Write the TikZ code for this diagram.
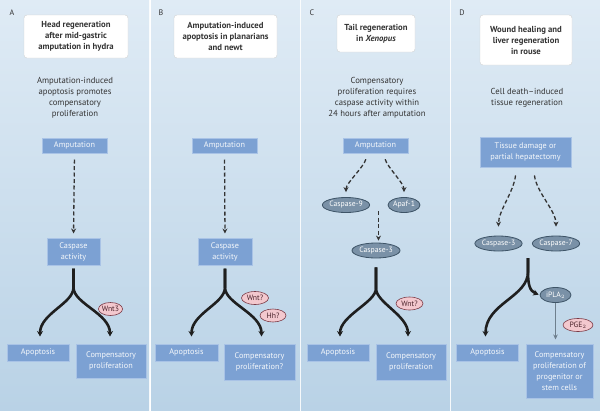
\documentclass[tikz,border=0pt]{standalone}
\usepackage{fontspec}
\setmainfont{PT Sans}
\usepackage{xcolor}
\usepackage{tikz}
\usetikzlibrary{shapes.geometric}
\usetikzlibrary{arrows.meta}

\definecolor{bgtop}{HTML}{DFEBF5}
\definecolor{bgbot}{HTML}{B9D2E6}
\definecolor{boxblue}{HTML}{7CA1D3}
\definecolor{boxrim}{HTML}{A9C3E6}
\definecolor{casgray}{HTML}{7A91A7}
\definecolor{casrim}{HTML}{3E5467}
\definecolor{pinkfill}{HTML}{F3C8CE}
\definecolor{pinkrim}{HTML}{7B3B47}
\definecolor{inktext}{HTML}{333333}

\tikzset{
 titlebox/.style={draw=gray!35,fill=white,rounded corners=3pt,align=center,inner sep=0pt,
 	font=\fontsize{8.7}{11}\selectfont\bfseries,text=inktext},
 blurb/.style={align=center,font=\fontsize{8.7}{11}\selectfont,text=inktext},
 bluebox/.style={draw=boxrim,line width=1pt,fill=boxblue,align=center,inner sep=0pt,
 	font=\fontsize{8.2}{11}\selectfont,text=white!92!boxblue},
 caspase/.style={ellipse,draw=casrim,line width=0.8pt,fill=casgray,inner sep=0pt,minimum height=15pt,
 	font=\fontsize{7.7}{9}\selectfont,text=white},
 signal/.style={ellipse,draw=pinkrim,line width=0.6pt,fill=pinkfill,inner sep=0pt,minimum height=13pt,
 	font=\fontsize{7.7}{9}\selectfont,text=pinkrim!60!black},
 dasharrow/.style={draw=black!80,line width=1.3pt,dash pattern=on 4pt off 2.5pt,
 	-{Stealth[length=5pt,width=5pt]}},
 fork/.style={draw=black!88,line width=2.6pt,-{Stealth[length=5.5pt,width=6pt]},shorten >=7pt},
 panellabel/.style={font=\fontsize{8}{9}\selectfont,text=inktext}
}

\begin{document}
\begin{tikzpicture}[x=1pt,y=-1pt]
 	\useasboundingbox (0,0) rectangle (600,410);
 	\fill[white] (0,0) rectangle (600,410);
 	\foreach \px in {0,151,301,451}
 	\shade[top color=bgtop,bottom color=bgbot] (\px,0) rectangle ++(149,410);
 	\foreach \lab/\lx in {A/12,B/161,C/312,D/462}
 	\node[panellabel] (lab\lab) at (\lx,13) {\lab};

 	% A
 	\node[titlebox,minimum width=104pt,minimum height=43pt] (titleA) at (76,36.5) {Head regeneration\\after mid-gastric\\amputation in hydra};
 	\node[blurb] (blurbA) at (75,97.5) {Amputation-induced\\apoptosis promotes\\compensatory\\proliferation};
 	\node[bluebox,minimum width=65pt,minimum height=15pt] (ampA) at (74.5,145.5) {Amputation};
 	\node[bluebox,minimum width=53pt,minimum height=27pt] (casA) at (73.5,251.5) {Caspase\\activity};
 	\node[bluebox,minimum width=62pt,minimum height=17pt] (apoA) at (38,352.5) {Apoptosis};
 	\node[bluebox,minimum width=70pt,minimum height=34pt] (compA) at (111,361) {Compensatory\\proliferation};
 	\node[signal,minimum width=24pt] (wntA) at (110.5,309) {Wnt3};
 	\draw[dasharrow,shorten <=6pt,shorten >=4pt] (ampA.south) -- (casA.north);
 	\draw[fork,shorten <=3pt] (casA.south) -- ++(0,22) .. controls +(0,16) and +(0,-30) .. ([xshift=2pt]apoA.north);
 	\draw[fork,shorten <=3pt] (casA.south) -- ++(0,22) .. controls +(0,16) and +(0,-30) .. ([xshift=-1pt]compA.north);

 	% B
 	\node[titlebox,minimum width=103pt,minimum height=43pt] (titleB) at (225.5,36.5) {Amputation-induced\\apoptosis in planarians\\and newt};
 	\node[bluebox,minimum width=65pt,minimum height=15pt] (ampB) at (224.5,145.5) {Amputation};
 	\node[bluebox,minimum width=54pt,minimum height=27pt] (casB) at (225,251.5) {Caspase\\activity};
 	\node[bluebox,minimum width=63pt,minimum height=17pt] (apoB) at (186.5,352.5) {Apoptosis};
 	\node[bluebox,minimum width=71pt,minimum height=36pt] (compB) at (259.5,362) {Compensatory\\proliferation?};
 	\node[signal,minimum width=27pt] (wntB) at (255,298) {Wnt?};
 	\node[signal,minimum width=26pt] (hhB) at (273,315.5) {Hh?};
 	\draw[dasharrow,shorten <=6pt,shorten >=4pt] (ampB.south) -- (casB.north);
 	\draw[fork,shorten <=3pt] (casB.south) -- ++(0,22) .. controls +(0,16) and +(0,-30) .. ([xshift=5pt]apoB.north);
 	\draw[fork,shorten <=3pt] (casB.south) -- ++(0,22) .. controls +(0,16) and +(0,-30) .. ([xshift=2pt]compB.north);

 	% C
 	\node[titlebox,minimum width=78pt,minimum height=37pt] (titleC) at (376,33.5) {Tail regeneration\\in \textit{Xenopus}};
 	\node[blurb] (blurbC) at (377,97.5) {Compensatory\\proliferation requires\\caspase activity within\\24 hours after amputation};
 	\node[bluebox,minimum width=65pt,minimum height=15pt] (ampC) at (375.5,145.5) {Amputation};
 	\node[caspase,minimum width=46pt] (c9C) at (346,205) {Caspase-9};
 	\node[caspase,minimum width=32pt] (apafC) at (404,205) {Apaf-1};
 	\coordinate (midC) at (378.5,211);
 	\node[caspase,minimum width=48pt] (c3C) at (376,250.5) {Caspase-3};
 	\node[bluebox,minimum width=62pt,minimum height=17pt] (apoC) at (338,352.5) {Apoptosis};
 	\node[bluebox,minimum width=70pt,minimum height=36pt] (compC) at (411,362) {Compensatory\\proliferation};
 	\node[signal,minimum width=27pt] (wntC) at (409.5,303.5) {Wnt?};
 	\draw[dasharrow,shorten <=6pt,shorten >=5pt] ([xshift=-8pt]ampC.south) .. controls +(-4,14) and +(0,-14) .. (c9C.north);
 	\draw[dasharrow,shorten <=6pt,shorten >=5pt] ([xshift=8pt]ampC.south) .. controls +(4,14) and +(0,-14) .. (apafC.north);
 	\draw[dasharrow,shorten >=2pt] (midC) -- (midC |- c3C.north);
 	\draw[fork,shorten <=9pt] (c3C.south) -- ++(0,30) .. controls +(0,14) and +(0,-28) .. ([xshift=2pt]apoC.north);
 	\draw[fork,shorten <=9pt] (c3C.south) -- ++(0,30) .. controls +(0,14) and +(0,-28) .. ([xshift=-3pt]compC.north);

 	% D
 	\node[titlebox,minimum width=92pt,minimum height=50pt] (titleD) at (526,40) {Wound healing and\\liver regeneration\\in rouse};
 	\node[blurb] (blurbD) at (527,97.5) {Cell death--induced\\tissue regeneration};
 	\node[bluebox,minimum width=91pt,minimum height=30pt] (tissueD) at (525.5,152) {Tissue damage or\\partial hepatectomy};
 	\node[caspase,minimum width=46pt] (c3D) at (498.5,243.5) {Caspase-3};
 	\node[caspase,minimum width=47pt] (c7D) at (556,243.5) {Caspase-7};
 	\coordinate (forkD) at (528,258);
 	\node[caspase,minimum width=31pt] (iplaD) at (555.5,295) {iPLA$_2$};
 	\node[signal,minimum width=30pt] (pgeD) at (578,325) {PGE$_2$};
 	\node[bluebox,minimum width=62pt,minimum height=17pt] (apoD) at (487.5,352.5) {Apoptosis};
 	\node[bluebox,minimum width=67pt,minimum height=54pt] (compD) at (559.5,371) {Compensatory\\proliferation of\\progenitor or\\stem cells};
 	\draw[dasharrow,shorten <=8pt,shorten >=9pt] ([xshift=-9pt]tissueD.south) .. controls +(-3,25) and +(0,-25) .. (c3D.north);
 	\draw[dasharrow,shorten <=8pt,shorten >=9pt] ([xshift=8pt]tissueD.south) .. controls +(3,25) and +(0,-25) .. (c7D.north);
 	\draw[fork] (forkD) -- ++(0,14) .. controls +(0,25) and +(0,-40) .. ([xshift=-2pt]apoD.north);
 	\draw[fork,shorten >=1pt] (forkD) -- ++(0,14) .. controls +(0,12) and +(-10,-4) .. (iplaD.west);
 	\draw[draw=casrim!75,line width=1.2pt,-{Stealth[length=5pt,width=4.5pt]},shorten >=4pt] (iplaD.south) -- (iplaD.south |- compD.north);
\end{tikzpicture}
\end{document}
